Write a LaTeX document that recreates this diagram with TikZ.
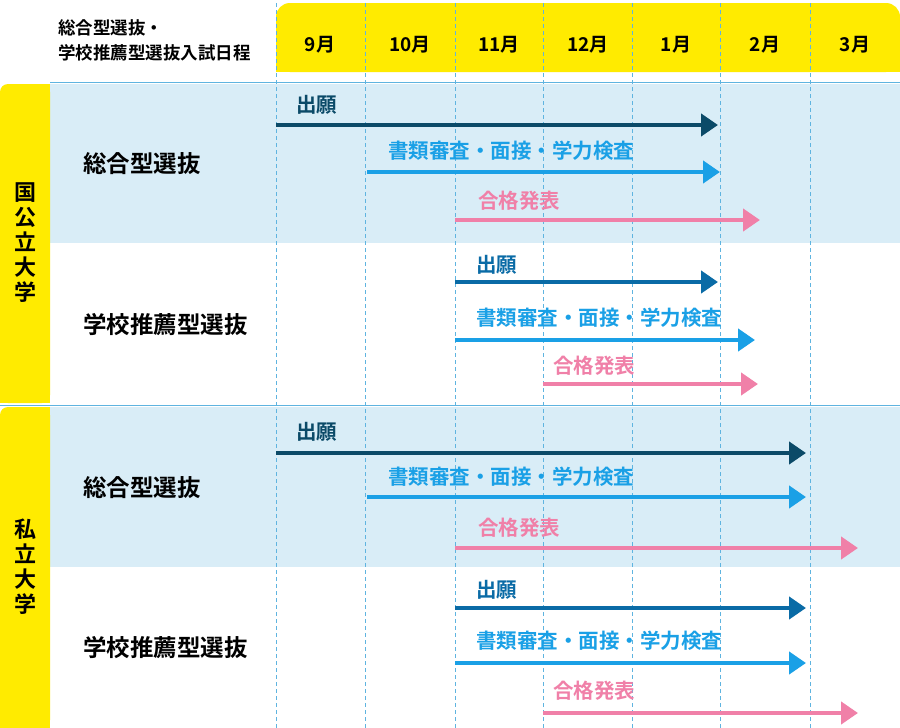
\documentclass[tikz,border=0pt]{standalone}
\usepackage{fontspec}
\setmainfont{Noto Sans CJK JP}[BoldFont={Noto Sans CJK JP Bold}]
\usetikzlibrary{arrows.meta}
\definecolor{yel}{HTML}{FFEB00}
\definecolor{band}{HTML}{D9EDF7}
\definecolor{navy}{HTML}{0B4A68}
\definecolor{mid}{HTML}{0A6BA6}
\definecolor{sky}{HTML}{1AA0E6}
\definecolor{pnk}{HTML}{F080A8}
\definecolor{grid}{HTML}{5FB4E0}
\begin{document}
\begin{tikzpicture}[x=1pt,y=-1pt,
  arr/.style={line width=4.5pt,-{Triangle[length=17pt,width=22pt]}},
  lab/.style={anchor=west,font=\bfseries\fontsize{20.5}{20}\selectfont,inner sep=0pt},
  row/.style={anchor=west,font=\bfseries\fontsize{23.5}{24}\selectfont,inner sep=0pt},
  side/.style={font=\bfseries\fontsize{22}{25}\selectfont,align=center,inner sep=0pt},
  mon/.style={font=\bfseries\fontsize{19}{19}\selectfont,inner sep=0pt}]
\useasboundingbox (0,0) rectangle (900,728);
\fill[white] (0,0) rectangle (900,728);
% header
\fill[yel,rounded corners=14pt] (276,3) rectangle (900,72);
\fill[yel] (276,40) rectangle (900,72);
% bands
\fill[band] (50,84) rectangle (900,243);
\fill[band] (50,407) rectangle (900,567);
% side bars
\fill[yel,rounded corners=8pt] (0,84) rectangle (50,403);
\fill[yel] (25,84) rectangle (50,403);
\fill[yel] (0,110) rectangle (50,403);
\fill[yel,rounded corners=8pt] (0,407) rectangle (50,728);
\fill[yel] (25,407) rectangle (50,728);
\fill[yel] (0,430) rectangle (50,728);
\draw[grid,line width=1pt] (0,405) -- (900,405);
\draw[grid,line width=1pt] (50,82) -- (900,82);
% grid
\foreach \x in {276,365,455,543,632,720,810}
  \draw[grid,dashed,dash pattern=on 4pt off 3pt,line width=0.8pt] (\x,3) -- (\x,728);
% months
\node[mon] (m9) at (320,45) {9月};
\node[mon] (m10) at (410,45) {10月};
\node[mon] (m11) at (499,45) {11月};
\node[mon] (m12) at (588,45) {12月};
\node[mon] (m1) at (676,45) {1月};
\node[mon] (m2) at (765,45) {2月};
\node[mon] (m3) at (855,45) {3月};
\node[anchor=west,font=\bfseries\fontsize{17.5}{25}\selectfont,align=left,inner sep=0pt] (hd) at (58,40) {総合型選抜・\\学校推薦型選抜入試日程};
% side labels
\node[side] (kk) at (25,243) {国\\公\\立\\大\\学};
\node[side] (sr) at (25,567) {私\\立\\大\\学};
% row labels
\node[row] (r1) at (83,164) {総合型選抜};
\node[row] (r2) at (83,325) {学校推薦型選抜};
\node[row] (r3) at (83,488) {総合型選抜};
\node[row] (r4) at (83,648) {学校推薦型選抜};
% coordinates
\foreach \n/\x/\y in {a1/276/125,b1/718/125,a2/367/172,b2/720/172,a3/455/220,b3/760/220,
  a4/455/282,b4/718/282,a5/455/340,b5/755/340,a6/543/384,b6/758/384,
  a7/276/453,b7/806/453,a8/367/497,b8/806/497,a9/455/548,b9/858/548,
  a10/455/608,b10/806/608,a11/455/663,b11/806/663,a12/543/713,b12/858/713}
  \coordinate (\n) at (\x,\y);
\draw[arr,navy] (a1) -- (b1);
\draw[arr,sky] (a2) -- (b2);
\draw[arr,pnk] (a3) -- (b3);
\draw[arr,mid] (a4) -- (b4);
\draw[arr,sky] (a5) -- (b5);
\draw[arr,pnk] (a6) -- (b6);
\draw[arr,navy] (a7) -- (b7);
\draw[arr,sky] (a8) -- (b8);
\draw[arr,pnk] (a9) -- (b9);
\draw[arr,mid] (a10) -- (b10);
\draw[arr,sky] (a11) -- (b11);
\draw[arr,pnk] (a12) -- (b12);
% labels
\node[lab,navy] (l1) at (296,105) {出願};
\node[lab,sky] (l2) at (388,151) {書類審査・面接・学力検査};
\node[lab,pnk] (l3) at (478,201) {合格発表};
\node[lab,mid] (l4) at (476,265) {出願};
\node[lab,sky] (l5) at (476,318) {書類審査・面接・学力検査};
\node[lab,pnk] (l6) at (553,366) {合格発表};
\node[lab,navy] (l7) at (296,432) {出願};
\node[lab,sky] (l8) at (388,477) {書類審査・面接・学力検査};
\node[lab,pnk] (l9) at (478,528) {合格発表};
\node[lab,mid] (l10) at (476,590) {出願};
\node[lab,sky] (l11) at (476,641) {書類審査・面接・学力検査};
\node[lab,pnk] (l12) at (553,691) {合格発表};
\end{tikzpicture}
\end{document}
